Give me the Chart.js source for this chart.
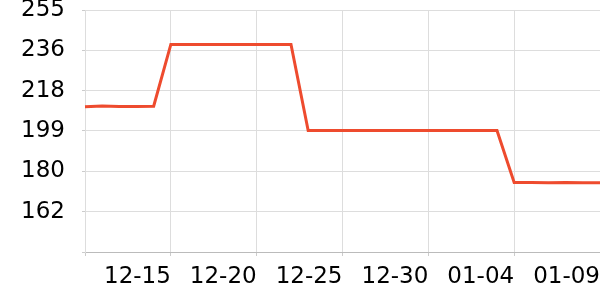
<!DOCTYPE html>
<html>
<head>
<meta charset="utf-8">
<script src="https://cdn.jsdelivr.net/npm/chart.js@4"></script>
<style>
	html, body { margin: 0; padding: 0; background: #fff; }
	#wrap { width: 600px; height: 300px; }
</style>
</head>
<body>
<div id="wrap"><canvas id="priceChart"></canvas></div>
<script>
// daily dates, 12-10 .. 01-09
const dates = [
	'12-10', '12-11', '12-12', '12-13', '12-14', '12-15', '12-16', '12-17', '12-18', '12-19',
	'12-20', '12-21', '12-22', '12-23', '12-24', '12-25', '12-26', '12-27', '12-28', '12-29',
	'12-30', '12-31', '01-01', '01-02', '01-03', '01-04', '01-05', '01-06', '01-07', '01-08',
	'01-09'
];

const prices = [
	210.3, 210.6, 210.4, 210.4, 210.5,
	239.1, 239.1, 239.1, 239.1, 239.1, 239.1, 239.1, 239.1,
	199.3, 199.3, 199.3, 199.3, 199.3, 199.3, 199.3, 199.3, 199.3, 199.3, 199.3, 199.3,
	175.2, 175.2, 175.1, 175.2, 175.1, 175.1
];

// y axis: 6 even steps, labels are rounded values
const yMin = 143.1;
const yMax = 255;
const yTickValues = [143.1, 161.75, 180.4, 199.05, 217.7, 236.35, 255];

const xTickEvery = 5;

Chart.defaults.font.family = "'DejaVu Sans', sans-serif";
Chart.defaults.font.size = 23;
Chart.defaults.color = '#000';

const ctx = document.getElementById('priceChart');

new Chart(ctx, {
	type: 'line',
	data: {
		labels: dates,
		datasets: [{
			data: prices,
			borderColor: 'rgb(238, 75, 46)',
			borderWidth: 3,
			pointRadius: 0,
			tension: 0,
			fill: false
		}]
	},
	options: {
		responsive: true,
		maintainAspectRatio: false,
		animation: false,
		layout: { padding: 0 },
		plugins: {
			legend: { display: false },
			tooltip: { enabled: false }
		},
		scales: {
			x: {
				grid: { color: '#dddddd', tickLength: 4, tickColor: '#cccccc' },
				border: { color: '#bbbbbb' },
				afterBuildTicks: function (scale) {
					scale.ticks = scale.ticks.filter(t => t.value % xTickEvery === 0);
				},
				afterFit: function (scale) {
					scale.height = 48;
					scale.paddingLeft = 0;
					scale.paddingRight = 0;
				},
				ticks: {
					autoSkip: false,
					maxRotation: 0,
					align: 'end',
					padding: 7,
					callback: function (value) {
						return value === 0 ? '' : this.getLabelForValue(value);
					}
				}
			},
			y: {
				min: yMin,
				max: yMax,
				grid: { color: '#dddddd', tickLength: 3, tickColor: '#cccccc' },
				border: { color: '#dddddd' },
				afterBuildTicks: function (scale) {
					scale.ticks = yTickValues.map(v => ({ value: v }));
				},
				afterFit: function (scale) {
					scale.width = 85;
					scale.paddingTop = 10;
					scale.paddingBottom = 0;
				},
				ticks: {
					padding: 17,
					callback: function (value) {
						return value === yMin ? '' : Math.round(value);
					}
				}
			}
		}
	}
});
</script>
</body>
</html>
